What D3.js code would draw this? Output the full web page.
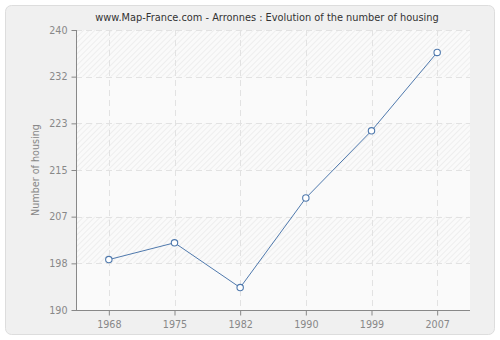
<!DOCTYPE html>
<html>
<head>
<meta charset="utf-8">
<script src="https://cdn.jsdelivr.net/npm/d3@7"></script>
<style>
    body { margin: 0; background: #fff; }
    text { font-family: "DejaVu Sans", Verdana, sans-serif; }
</style>
</head>
<body>
<div id="chart"></div>
<script>
// Values
let years = ["1968", "1975", "1982", "1990", "1999", "2007"];
let housing = [199, 202, 194, 210, 222, 236];
let yTicks = [190, 198.33, 206.67, 215, 223.33, 231.67, 240];

let width = 500, height = 340;
let margin = {top: 30, right: 30, bottom: 30, left: 76};

let svg = d3.select("#chart").append("svg")
    .attr("width", width)
    .attr("height", height);

// Hatch pattern for the plot background
let defs = svg.append("defs");
let pat = defs.append("pattern")
    .attr("id", "hatch")
    .attr("patternUnits", "userSpaceOnUse")
    .attr("width", 4).attr("height", 4)
    .attr("patternTransform", "rotate(45)");
pat.append("rect").attr("width", 4).attr("height", 4).attr("fill", "#fafafa");
pat.append("line").attr("x1", 0).attr("y1", 0).attr("x2", 0).attr("y2", 4)
    .attr("stroke", "#e3e3e3").attr("stroke-width", 1);

// Outer panel
svg.append("rect")
    .attr("x", 5.5).attr("y", 5.5)
    .attr("width", 489).attr("height", 329)
    .attr("rx", 6)
    .attr("fill", "#f0f0f0")
    .attr("stroke", "#dddddd");

let xScale = d3.scalePoint()
    .domain(years)
    .range([margin.left, width - margin.right])
    .padding(0.5);

let yScale = d3.scaleLinear()
    .domain([190, 240])
    .range([height - margin.bottom, margin.top]);

// Plot area background, alternating hatched and plain bands
svg.append("rect")
    .attr("x", margin.left).attr("y", margin.top)
    .attr("width", width - margin.left - margin.right)
    .attr("height", height - margin.top - margin.bottom)
    .attr("fill", "#fafafa");

let bands = d3.pairs(yTicks).filter((d, i) => i % 2 === 1);
svg.append("g").selectAll("rect")
    .data(bands)
    .join("rect")
    .attr("x", margin.left)
    .attr("width", width - margin.left - margin.right)
    .attr("y", d => yScale(d[1]))
    .attr("height", d => yScale(d[0]) - yScale(d[1]))
    .attr("fill", "url(#hatch)");

// Grid lines
let grid = svg.append("g")
    .attr("stroke", "#e2e2e2")
    .attr("stroke-dasharray", "6,4");
grid.selectAll(".hgrid")
    .data(yTicks.slice(1))
    .join("line")
    .attr("class", "hgrid")
    .attr("x1", margin.left).attr("x2", width - margin.right)
    .attr("y1", d => Math.round(yScale(d)) + 0.5)
    .attr("y2", d => Math.round(yScale(d)) + 0.5);
grid.selectAll(".vgrid")
    .data(years)
    .join("line")
    .attr("class", "vgrid")
    .attr("y1", margin.top).attr("y2", height - margin.bottom)
    .attr("x1", d => Math.round(xScale(d)) + 0.5)
    .attr("x2", d => Math.round(xScale(d)) + 0.5);

// Axes
let yAxis = d3.axisLeft(yScale)
    .tickValues(yTicks)
    .tickFormat(d3.format(".0f"))
    .tickSize(5)
    .tickPadding(4);
let gy = svg.append("g")
    .attr("transform", `translate(${margin.left + 0.5},0)`)
    .call(yAxis);

let xAxis = d3.axisBottom(xScale)
    .tickSize(5)
    .tickPadding(6);
let gx = svg.append("g")
    .attr("transform", `translate(0,${height - margin.bottom + 0.5})`)
    .call(xAxis);

[gx, gy].forEach(g => {
    g.select(".domain").attr("stroke", "#888");
    g.selectAll(".tick line").attr("stroke", "#888");
    g.selectAll(".tick text")
        .attr("fill", "#888")
        .style("font-size", "9.6px")
        .style("font-family", "DejaVu Sans, Verdana, sans-serif");
});
gx.select(".domain").attr("d", `M${margin.left},0H${width - margin.right}`);
gy.select(".domain").attr("d", `M0,${margin.top}V${height - margin.bottom}`);

// Title
svg.append("text")
    .attr("x", 267).attr("y", 21)
    .attr("text-anchor", "middle")
    .attr("fill", "#333")
    .style("font-size", "9.8px")
    .text("www.Map-France.com - Arronnes : Evolution of the number of housing");

// Y axis label
svg.append("text")
    .attr("transform", `translate(39,${yScale(215)}) rotate(-90)`)
    .attr("text-anchor", "middle")
    .attr("fill", "#888")
    .style("font-size", "9.6px")
    .text("Number of housing");

// The line
let series = years.map((y, i) => ({year: y, value: housing[i]}));
let line = d3.line()
    .x(d => xScale(d.year))
    .y(d => yScale(d.value));

svg.append("path")
    .datum(series)
    .attr("fill", "none")
    .attr("stroke", "#4f79ad")
    .attr("stroke-width", 1)
    .attr("d", line);

svg.append("g").selectAll("circle")
    .data(series)
    .join("circle")
    .attr("cx", d => xScale(d.year))
    .attr("cy", d => yScale(d.value))
    .attr("r", 3.2)
    .attr("fill", "#fff")
    .attr("stroke", "#4f79ad")
    .attr("stroke-width", 1.1);
</script>
</body>
</html>
